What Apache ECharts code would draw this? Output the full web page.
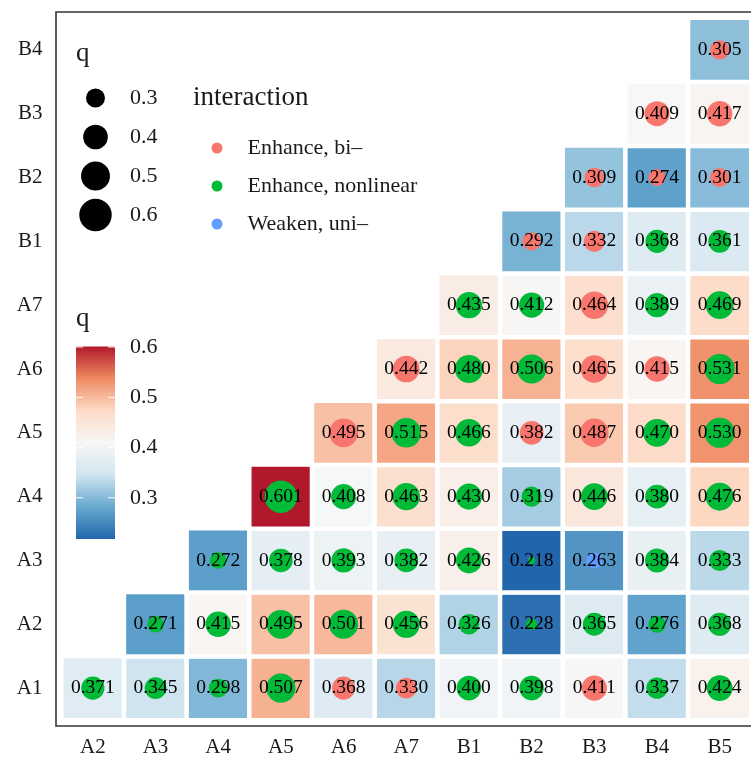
<!DOCTYPE html>
<html>
<head>
<meta charset="utf-8">
<script src="https://cdn.jsdelivr.net/npm/echarts@6/dist/echarts.min.js"></script>
<style>
html,body{margin:0;padding:0;background:#fff;}
#chart{width:751px;height:761px;}
</style>
</head>
<body>
<div id="chart"></div>
<script>
// ---- data ----
const xCategories = ['A2','A3','A4','A5','A6','A7','B1','B2','B3','B4','B5'];
const yCategories = ['A1','A2','A3','A4','A5','A6','A7','B1','B2','B3','B4'];

// q value per row (y category), columns follow xCategories; null = empty cell
const qA1 = [0.371,0.345,0.298,0.507,0.368,0.330,0.400,0.398,0.411,0.337,0.424];
const qA2 = [null,0.271,0.415,0.495,0.501,0.456,0.326,0.228,0.365,0.276,0.368];
const qA3 = [null,null,0.272,0.378,0.393,0.382,0.426,0.218,0.263,0.384,0.333];
const qA4 = [null,null,null,0.601,0.408,0.463,0.430,0.319,0.446,0.380,0.476];
const qA5 = [null,null,null,null,0.495,0.515,0.466,0.382,0.487,0.470,0.530];
const qA6 = [null,null,null,null,null,0.442,0.480,0.506,0.465,0.415,0.531];
const qA7 = [null,null,null,null,null,null,0.435,0.412,0.464,0.389,0.469];
const qB1 = [null,null,null,null,null,null,null,0.292,0.332,0.368,0.361];
const qB2 = [null,null,null,null,null,null,null,null,0.309,0.274,0.301];
const qB3 = [null,null,null,null,null,null,null,null,null,0.409,0.417];
const qB4 = [null,null,null,null,null,null,null,null,null,null,0.305];

// interaction type per cell: B = Enhance, bi- ; N = Enhance, nonlinear ; W = Weaken, uni-
const tA1 = ['N','N','N','N','B','B','N','N','B','N','N'];
const tA2 = [null,'N','N','N','N','N','N','N','N','N','N'];
const tA3 = [null,null,'N','N','N','N','N','N','W','N','N'];
const tA4 = [null,null,null,'N','N','N','N','N','N','N','N'];
const tA5 = [null,null,null,null,'B','N','N','B','B','N','N'];
const tA6 = [null,null,null,null,null,'B','N','N','B','B','N'];
const tA7 = [null,null,null,null,null,null,'N','N','B','N','N'];
const tB1 = [null,null,null,null,null,null,null,'B','B','N','N'];
const tB2 = [null,null,null,null,null,null,null,null,'B','B','B'];
const tB3 = [null,null,null,null,null,null,null,null,null,'B','B'];
const tB4 = [null,null,null,null,null,null,null,null,null,null,'B'];

const interactionCodes = ['B','N','W'];
const interactionNames = ['Enhance, bi\u2013','Enhance, nonlinear','Weaken, uni\u2013'];
const sizeLegendValues = [0.3,0.4,0.5,0.6];
const colorbarTicks = [0.3,0.4,0.5,0.6];

// ---- styles ----
const qRows = [qA1,qA2,qA3,qA4,qA5,qA6,qA7,qB1,qB2,qB3,qB4];
const tRows = [tA1,tA2,tA3,tA4,tA5,tA6,tA7,tB1,tB2,tB3,tB4];
const interactionColors = {B:'#F8766D', N:'#00BA38', W:'#619CFF'};
const palette = ['#2166ac','#67a9cf','#d1e5f0','#f7f7f7','#fddbc7','#ef8a62','#b2182b'];
const FONT = '"Liberation Serif", "DejaVu Serif", serif';
const TXT = '#1a1a1a';

const heatData = [];
const pointData = {B:[], N:[], W:[]};
let qMin = Infinity, qMax = -Infinity;
qRows.forEach((row, yi) => {
  row.forEach((q, xi) => {
    if (q === null) return;
    heatData.push([xi, yi, q]);
    pointData[tRows[yi][xi]].push([xi, yi, q]);
    qMin = Math.min(qMin, q); qMax = Math.max(qMax, q);
  });
});
const sizeOf = v => 7.3 + 25.2 * Math.sqrt(Math.max(0, (v - qMin) / (qMax - qMin)));

const chart = echarts.init(document.getElementById('chart'), null, {renderer:'canvas'});

// legends drawn as graphics
const graphics = [];
// panel border
graphics.push({type:'rect', shape:{x:56, y:12, width:720, height:714},
  style:{fill:'none', stroke:'#333', lineWidth:1.6}, z:100, silent:true});
// size legend
graphics.push({type:'text', x:76, y:54, style:{text:'q', font:'27px '+FONT, fill:TXT, verticalAlign:'middle'}});
sizeLegendValues.forEach((v, i) => {
  const cy = 98 + i * 39;
  graphics.push({type:'circle', shape:{cx:95.5, cy:cy, r:sizeOf(v)/2}, style:{fill:'#000'}});
  graphics.push({type:'text', x:130, y:cy, style:{text:v.toFixed(1), font:'22px '+FONT, fill:TXT, verticalAlign:'middle'}});
});
// interaction title
graphics.push({type:'text', x:193, y:98, style:{text:'interaction', font:'27px '+FONT, fill:TXT, verticalAlign:'middle'}});
// colorbar
const cbX = 76, cbTop = 346.5, cbW = 39, cbH = 192.5;
graphics.push({type:'text', x:76, y:319, style:{text:'q', font:'27px '+FONT, fill:TXT, verticalAlign:'middle'}});
graphics.push({type:'rect', shape:{x:cbX, y:cbTop, width:cbW, height:cbH},
  style:{fill:{type:'linear', x:0, y:1, x2:0, y2:0,
    colorStops: palette.map((c, i) => ({offset: i/(palette.length-1), color:c}))}}});
colorbarTicks.forEach(v => {
  const y = cbTop + cbH - (v - qMin) / (qMax - qMin) * cbH;
  graphics.push({type:'line', shape:{x1:cbX, y1:y, x2:cbX+7, y2:y}, style:{stroke:'#fff', lineWidth:1}});
  graphics.push({type:'line', shape:{x1:cbX+cbW-7, y1:y, x2:cbX+cbW, y2:y}, style:{stroke:'#fff', lineWidth:1}});
  graphics.push({type:'text', x:130, y:y, style:{text:v.toFixed(1), font:'22px '+FONT, fill:TXT, verticalAlign:'middle'}});
});

const scatterSeries = interactionCodes.map((code, i) => ({
  name: interactionNames[i],
  type: 'scatter',
  z: 3,
  data: pointData[code],
  symbol: 'circle',
  symbolSize: d => sizeOf(d[2]),
  itemStyle: {color: interactionColors[code], opacity: 1},
  label: {show:true, position:'inside', formatter: p => p.value[2].toFixed(3),
    color:'#000', fontSize:19.5, fontFamily: FONT},
  emphasis: {disabled: true}
}));

chart.setOption({
  animation: false,
  backgroundColor: '#fff',
  grid: {left:61.5, top:18, width:693, height:702, containLabel:false},
  xAxis: {type:'category', data:xCategories, position:'bottom',
    axisLine:{show:false}, axisTick:{show:false}, splitLine:{show:false},
    axisLabel:{color:TXT, fontSize:21, fontFamily:FONT, margin:17}},
  yAxis: {type:'category', data:yCategories,
    axisLine:{show:false}, axisTick:{show:false}, splitLine:{show:false},
    axisLabel:{color:TXT, fontSize:21, fontFamily:FONT, margin:19}},
  visualMap: {show:false, type:'continuous', min:qMin, max:qMax, dimension:2, seriesIndex:0,
    inRange:{color:palette}},
  legend: {orient:'vertical', left:206.5, top:132, itemWidth:11, itemHeight:11, itemGap:16,
    icon:'circle', data:interactionNames,
    textStyle:{fontSize:22, fontFamily:FONT, color:TXT, lineHeight:22, padding:[0,0,0,20]}},
  series: [{
    type:'heatmap', z:1, data:heatData,
    itemStyle:{borderColor:'#fff', borderWidth:4.5},
    label:{show:false}, emphasis:{disabled:true}
  }].concat(scatterSeries),
  graphic: graphics
});
</script>
</body>
</html>
